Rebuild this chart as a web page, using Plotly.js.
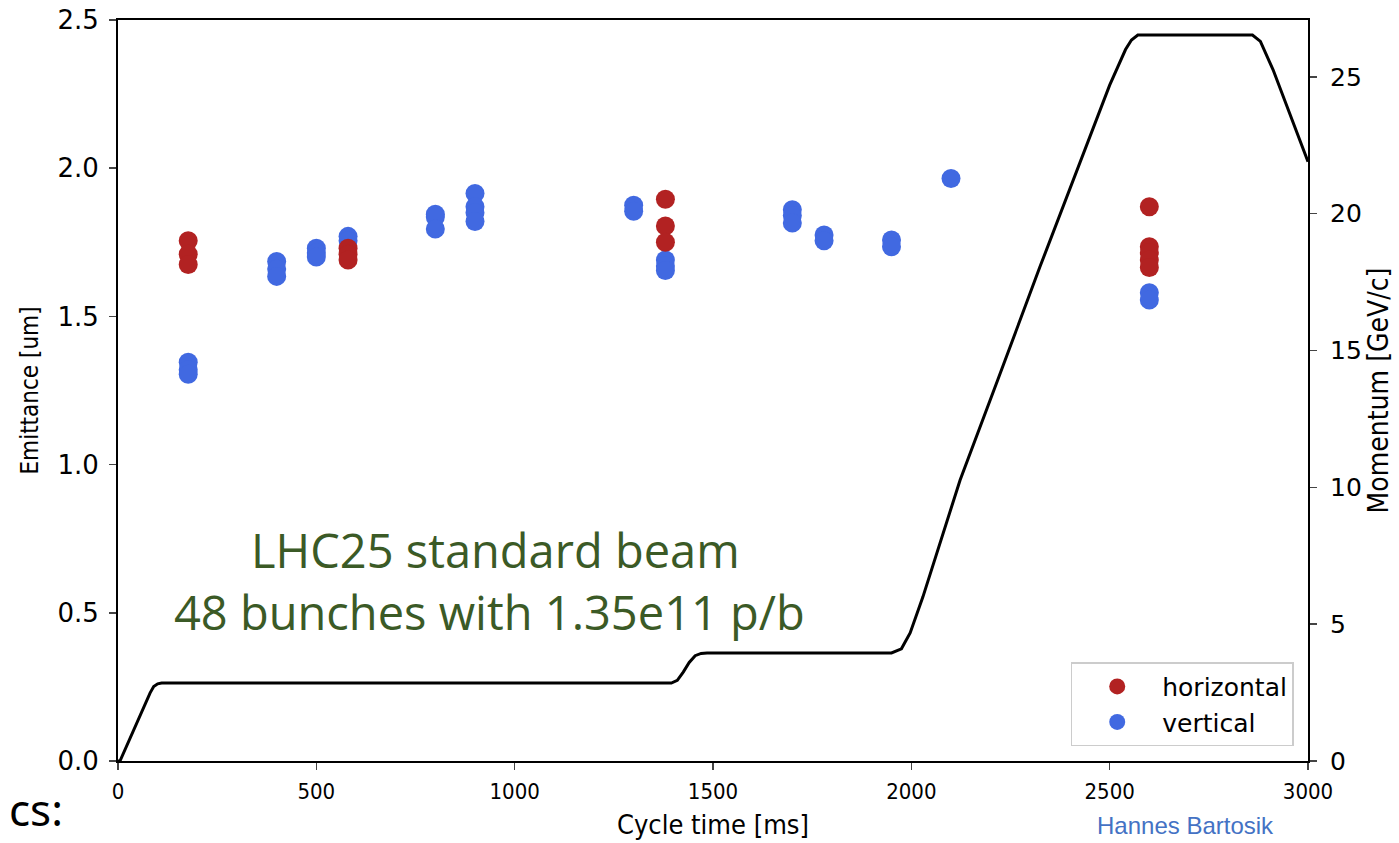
<!DOCTYPE html>
<html>
<head>
<meta charset="utf-8">
<script src="https://cdn.plot.ly/plotly-3.0.1.min.js"></script>
<style>html,body{margin:0;padding:0;background:#fff;overflow:hidden}#chart{width:1399px;height:843px}</style>
</head>
<body>
<div id="chart"></div>
<script>
// Horizontal emittance measurements
const hTime = [177, 177, 177, 580, 580, 580, 1380, 1380, 1380, 2600, 2600, 2600, 2600, 2600];
const hEmit = [1.755, 1.71, 1.675, 1.73, 1.71, 1.69, 1.895, 1.805, 1.75, 1.87, 1.735, 1.715, 1.69, 1.665];
// Vertical emittance measurements
const vTime = [177, 177, 177, 400, 400, 400, 500, 500, 500, 580, 580, 800, 800, 800, 900, 900, 900, 900,
  1300, 1300, 1380, 1380, 1380, 1700, 1700, 1700, 1780, 1780, 1950, 1950, 2100, 2600, 2600];
const vEmit = [1.345, 1.32, 1.305, 1.685, 1.66, 1.635, 1.73, 1.715, 1.70, 1.77, 1.755, 1.845, 1.835, 1.795,
  1.915, 1.87, 1.85, 1.82, 1.875, 1.855, 1.69, 1.67, 1.655, 1.86, 1.84, 1.815, 1.775, 1.755, 1.758, 1.735,
  1.965, 1.58, 1.555];
// Momentum cycle
const pTime = [0, 5, 81, 90, 100, 110, 1395, 1410, 1425, 1440, 1455, 1470, 1485, 1950, 1975, 1997, 2029,
  2123, 2218, 2324, 2500, 2540, 2555, 2571, 2860, 2880, 2912, 3000];
const pMom = [0, 0, 2.49, 2.72, 2.82, 2.85, 2.85, 2.95, 3.25, 3.6, 3.85, 3.93, 3.95, 3.95, 4.1, 4.68, 5.99,
  10.27, 13.93, 18.05, 24.7, 26.0, 26.35, 26.53, 26.53, 26.3, 25.26, 21.9];

const xTicks = [0, 500, 1000, 1500, 2000, 2500, 3000];
const yTicks = [0, 0.5, 1.0, 1.5, 2.0, 2.5];
const y2Ticks = [0, 5, 10, 15, 20, 25];

const cond = 'DejaVu Sans Condensed, DejaVu Sans';

const traces = [
  {x: pTime, y: pMom, yaxis: 'y2', type: 'scatter', mode: 'lines',
   line: {color: '#000', width: 3}, showlegend: false, hoverinfo: 'skip'},
  {x: vTime, y: vEmit, type: 'scatter', mode: 'markers', name: 'vertical',
   marker: {color: '#4169e1', size: 19}},
  {x: hTime, y: hEmit, type: 'scatter', mode: 'markers', name: 'horizontal',
   marker: {color: '#b22222', size: 19}}
];

const layout = {
  width: 1399, height: 843,
  margin: {l: 118, r: 91, t: 20, b: 82},
  paper_bgcolor: '#fff', plot_bgcolor: '#fff',
  showlegend: true,
  legend: {x: 0.988, y: 0.02, xanchor: 'right', yanchor: 'bottom',
    bgcolor: '#fff', bordercolor: '#cccccc', borderwidth: 1.5, itemwidth: 80,
    traceorder: 'reversed', font: {family: 'DejaVu Sans', size: 25, color: '#000'}},
  xaxis: {range: [0, 3000], tickvals: xTicks, ticks: 'outside', ticklen: 7, tickwidth: 1.5, ticklabelstandoff: 3,
    showline: true, linecolor: '#000', linewidth: 2, mirror: true, showgrid: false, zeroline: false,
    tickfont: {family: cond, size: 22, color: '#000'},
    title: {text: 'Cycle time [ms]', font: {family: cond, size: 27, color: '#000'}, standoff: 12}},
  yaxis: {range: [0, 2.5], tickvals: yTicks, tickformat: '.1f', ticks: 'outside', ticklen: 7, tickwidth: 1.5, ticklabelstandoff: 5,
    showline: true, linecolor: '#000', linewidth: 2, showgrid: false, zeroline: false,
    tickfont: {family: 'DejaVu Sans', size: 26, color: '#000'},
    title: {text: 'Emittance [um]', font: {family: cond, size: 24, color: '#000'}, standoff: 12}},
  yaxis2: {range: [0, 27.08], tickvals: y2Ticks, overlaying: 'y', side: 'right', ticks: 'outside', ticklen: 7, tickwidth: 1.5, ticklabelstandoff: 8,
    showline: true, linecolor: '#000', linewidth: 2, showgrid: false, zeroline: false,
    tickfont: {family: 'DejaVu Sans', size: 25, color: '#000'},
    title: {text: 'Momentum [GeV/c]', font: {family: cond, size: 28, color: '#000'}, standoff: 8}},
  annotations: [
    {xref: 'paper', yref: 'paper', x: 0.3176, y: 0.2847, text: 'LHC25 standard beam', showarrow: false,
     font: {family: 'Open Sans', size: 47, color: '#3b5a26'}, xanchor: 'center', yanchor: 'middle'},
    {xref: 'paper', yref: 'paper', x: 0.3126, y: 0.201, text: '48 bunches with 1.35e11 p/b', showarrow: false,
     font: {family: 'Open Sans', size: 47, color: '#3b5a26'}, xanchor: 'center', yanchor: 'middle'},
    {xref: 'paper', yref: 'paper', x: -0.093, y: -0.108, text: 'cs:', showarrow: false,
     font: {family: 'Noto Sans', size: 44, color: '#000'}, xanchor: 'left', yanchor: 'bottom'},
    {xref: 'paper', yref: 'paper', x: 0.821, y: -0.108, text: 'Hannes Bartosik', showarrow: false,
     font: {family: 'Liberation Sans', size: 24, color: '#4472c4'}, xanchor: 'left', yanchor: 'bottom'}
  ]
};

Plotly.newPlot('chart', traces, layout, {displayModeBar: false, staticPlot: true});
</script>
</body>
</html>
